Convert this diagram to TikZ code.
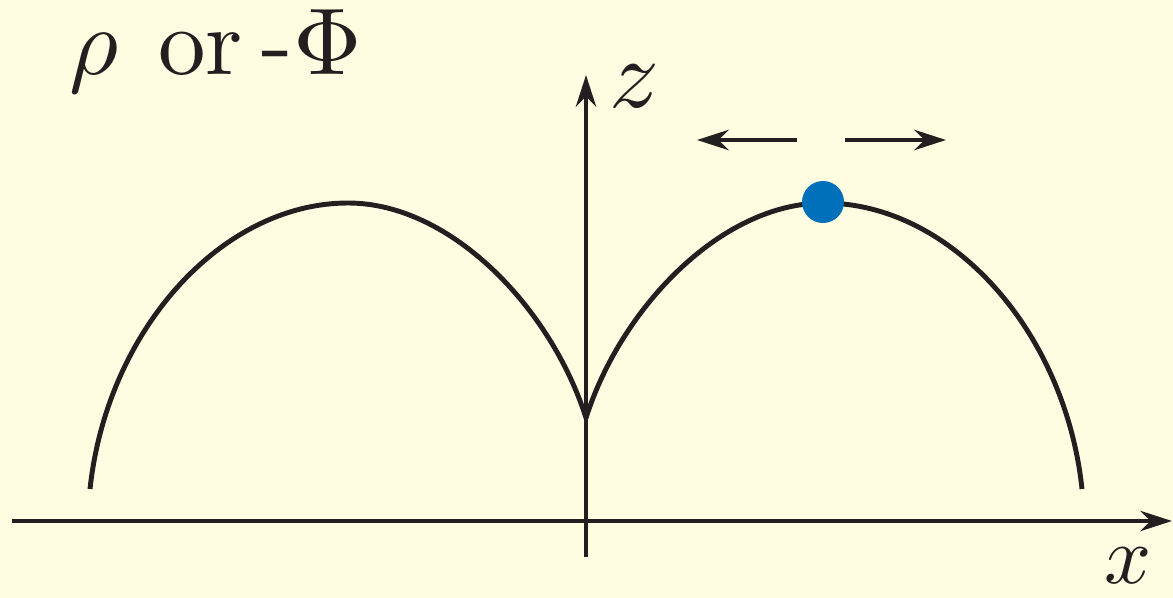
\documentclass[tikz,border=0pt]{standalone}
\usepackage{tikz}
\usetikzlibrary{arrows.meta, calc}

\definecolor{paper}{RGB}{255,253,225}
\definecolor{ink}{RGB}{35,31,32}
\definecolor{bead}{RGB}{0,112,186}

\begin{document}
\begin{tikzpicture}[
    x=0.02cm, y=-0.02cm,
    >={Stealth[length=18pt, width=11.5pt]},
    line width=2.8pt,
    axis/.style={draw=ink, ->},
    arch/.style={draw=ink},
    push/.style={draw=ink, ->},
    lbl/.style={text=ink, inner sep=0pt},
]
\fill[paper] (0,0) rectangle (1173,598);
\useasboundingbox (0,0) rectangle (1173,598);

% axes
\coordinate (xl) at (12,521);
\coordinate (xr) at (1172,521);
\coordinate (zb) at (586,557);
\coordinate (zt) at (586,75);
\draw[axis] (xl) -- (xr);
\draw[axis] (zb) -- (zt);

% the two arches, meeting in a cusp on the z axis
\coordinate (cusp) at (586,418);
\coordinate (rpeak) at (824,203);
\coordinate (rend) at (1082,489);
\coordinate (lpeak) at (348,203);
\coordinate (lend) at (90,489);
\draw[arch] (cusp) .. controls (620,310) and (720,203) .. (rpeak)
    .. controls (950,203) and (1065,330) .. (rend);
\draw[arch] (cusp) .. controls (552,310) and (452,203) .. (lpeak)
    .. controls (222,203) and (107,330) .. (lend);

% bead on top of the right arch
\node[circle, fill=bead, minimum size=42*0.02cm, inner sep=0pt] (ball) at (823,202) {};

% arrows
\coordinate (la) at (797,140);
\coordinate (lb) at (697,140);
\coordinate (ra) at (845,140);
\coordinate (rb) at (946,140);
\draw[push] (la) -- (lb);
\draw[push] (ra) -- (rb);

% labels
\node[lbl, scale=5.4, anchor=base west] (title) at (56,75)
    {$\rho$\hspace{0.42em}or\hspace{0.2em}-$\Phi$};
\node[lbl, scale=5.6] (zlabel) at (635,86) {$z$};
\node[lbl, scale=4.7] (xlabel) at (1128,566) {$x$};

\end{tikzpicture}
\end{document}
